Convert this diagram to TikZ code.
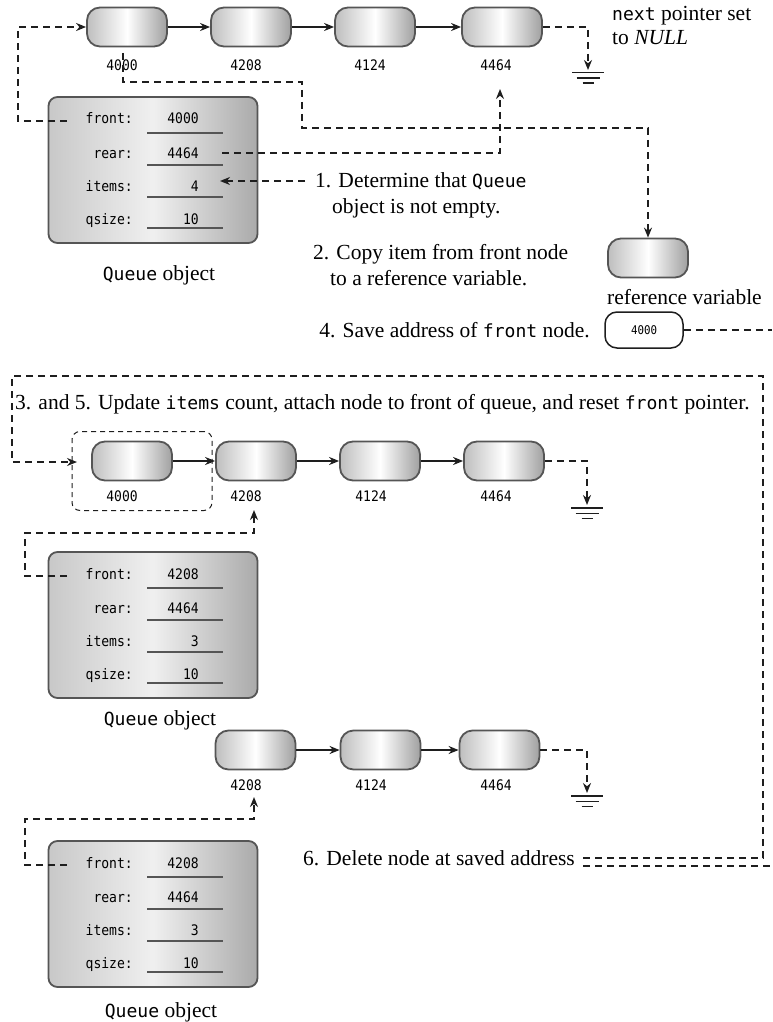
\documentclass[tikz,border=0pt]{standalone}
\usepackage{fontspec}
\setmainfont{Liberation Serif}
\setmonofont{DejaVu Sans Mono}[Scale=0.84]
\newfontfamily\fieldfont{DejaVu Sans Mono}[FakeStretch=0.9]
\usepackage{tikz}
\usetikzlibrary{arrows.meta, positioning}
\definecolor{myedge}{RGB}{85,85,85}
\definecolor{myink}{RGB}{30,30,30}
\definecolor{shadel}{RGB}{190,190,190}
\definecolor{shader}{RGB}{160,160,160}
\definecolor{boxl}{RGB}{200,200,200}
\definecolor{boxr}{RGB}{170,170,170}
\tikzset{
  listnode/.style={rectangle, rounded corners=13pt, minimum width=80pt,
    minimum height=39pt, draw=myedge, line width=1.8pt,
    left color=shadel, right color=shader, middle color=white},
  qbox/.style={rectangle, rounded corners=9pt, minimum width=209pt,
    minimum height=146pt, draw=myedge, line width=1.8pt,
    left color=boxl, right color=boxr, middle color=white!94!black},
  savebox/.style={rectangle, rounded corners=12pt, minimum width=78pt,
    minimum height=36pt, draw=myink, line width=1.5pt, fill=white,
    font=\fieldfont\fontsize{12}{14}\selectfont},
  nodelbl/.style={font=\fieldfont\fontsize{14.5}{16}\selectfont, inner sep=0pt},
  fieldtxt/.style={font=\fieldfont\fontsize{14.5}{16}\selectfont, inner sep=0pt,
    anchor=base east},
  fieldline/.style={draw=myedge, line width=1.6pt},
  stepnote/.style={font=\fontsize{21.5}{26}\selectfont, align=left, inner sep=0pt},
  link/.style={-{Stealth[length=10pt,width=8pt]}, line width=1.7pt, color=myink},
  ptr/.style={line width=1.7pt, color=myink, dash pattern=on 7pt off 5pt},
  ptrtip/.style={-{Stealth[length=10pt,width=8pt]}},
  selbox/.style={rectangle, draw=myink, line width=1pt,
    dash pattern=on 5pt off 4pt, rounded corners=8pt},
  gnd/.style={line width=1.6pt, color=myink}
}
% ground symbol under a NULL pointer
\newcommand{\groundat}[1]{%
  \draw[gnd] ([shift={(-16,2.7)}]#1) -- ++(32,0);
  \draw[gnd] ([shift={(-11.5,8.3)}]#1) -- ++(23,0);
  \draw[gnd] ([shift={(-5.5,13.3)}]#1) -- ++(11,0);
}
% Queue object: name, centre, front, rear, items
\newcommand{\queuebox}[5]{%
  \node[qbox] (#1) at #2 {};
  \node[fieldtxt] (#1fl) at ([shift={(-20,-46)}]#1.center) {front:};
  \node[fieldtxt] (#1rl) at ([shift={(-20,-12)}]#1.center) {rear:};
  \node[fieldtxt] (#1il) at ([shift={(-20,21)}]#1.center) {items:};
  \node[fieldtxt] (#1sl) at ([shift={(-20,54)}]#1.center) {qsize:};
  \node[fieldtxt] (#1fv) at ([shift={(46,-46)}]#1.center) {#3};
  \node[fieldtxt] (#1rv) at ([shift={(46,-12)}]#1.center) {#4};
  \node[fieldtxt] (#1iv) at ([shift={(46,21)}]#1.center) {#5};
  \node[fieldtxt] (#1sv) at ([shift={(46,54)}]#1.center) {10};
  \draw[fieldline] ([shift={(-6,-37)}]#1.center) -- ++(76,0);
  \draw[fieldline] ([shift={(-6,-5)}]#1.center) -- ++(76,0);
  \draw[fieldline] ([shift={(-6,27)}]#1.center) -- ++(76,0);
  \draw[fieldline] ([shift={(-6,58)}]#1.center) -- ++(76,0);
  \coordinate (#1fp) at ([shift={(-86,-49)}]#1.center);
}

\begin{document}
\begin{tikzpicture}[x=1pt, y=-1pt]
  \useasboundingbox (0,0) rectangle (772,1022);

  % Step 1: list before dequeue
  \node[listnode] (t1) at (127,27) {};
  \node[listnode] (t2) at (251,27) {};
  \node[listnode] (t3) at (375,27) {};
  \node[listnode] (t4) at (502,27) {};
  \node[nodelbl] (t1a) at (122,65) {4000};
  \node[nodelbl] (t2a) at (246,65) {4208};
  \node[nodelbl] (t3a) at (370,65) {4124};
  \node[nodelbl] (t4a) at (496,65) {4464};
  \draw[link] (t1) -- (t2);
  \draw[link] (t2) -- (t3);
  \draw[link] (t3) -- (t4);
  \coordinate (t4nil) at (588,70);
  \draw[ptr, ptrtip] (t4.east) -| (t4nil);
  \groundat{t4nil}
  \node[stepnote, anchor=west, font=\fontsize{21.5}{24}\selectfont] (snull) at (612,25) {\texttt{next} pointer set\\to \textit{NULL}};

  \queuebox{q1}{(153,170)}{4000}{4464}{4}
  \node[stepnote] (q1cap) at (159,275) {\texttt{Queue} object};
  \coordinate (c1) at (18,27);
  \draw[ptr, ptrtip] (q1fp) -| (c1) -- (t1.west);
  \coordinate (rtip) at (500,89);
  \draw[ptr, ptrtip] ([xshift=23pt]q1rv.east) -| (rtip);

  % Steps 1, 2 and 4
  \node[stepnote, anchor=west] (s1) at (315,195) {1. Determine that \texttt{Queue}\\\hspace*{17pt}object is not empty.};
  \coordinate (itip) at (220,181);
  \draw[ptr, ptrtip] ([xshift=-10pt]s1.west |- itip) -- (itip);
  \node[stepnote, anchor=west] (s2) at (313,265) {2. Copy item from front node\\\hspace*{17pt}to a reference variable.};
  \node[listnode] (refv) at (648,258) {};
  \node[stepnote, anchor=west] (refcap) at (607,297) {reference variable};
  \coordinate (cp0) at (123,53);
  \coordinate (cp1) at (302,82);
  \coordinate (cp2) at (302,128);
  \draw[ptr, ptrtip] (cp0) |- (cp1) -- (cp2) -| (refv.north);
  \node[stepnote, anchor=east] (s4) at (590,330) {4. Save address of \texttt{front} node.};
  \node[savebox] (savev) at (644,330) {4000};
  \coordinate (e1) at (772,330);
  \draw[ptr] (savev.east) -- (e1);

  % Steps 3 and 5: list after front is reset
  \node[stepnote, anchor=west] (s35) at (15,404) {3. and 5. Update \texttt{items} count, attach node to front of queue, and reset \texttt{front} pointer.};
  \node[listnode] (m1) at (132,461) {};
  \node[listnode] (m2) at (256,461) {};
  \node[listnode] (m3) at (380,461) {};
  \node[listnode] (m4) at (504,461) {};
  \node[nodelbl] (m1a) at (122,496) {4000};
  \node[nodelbl] (m2a) at (246,496) {4208};
  \node[nodelbl] (m3a) at (371,496) {4124};
  \node[nodelbl] (m4a) at (496,496) {4464};
  \node[selbox, minimum width=140pt, minimum height=79pt] (sel) at (142,471) {};
  \draw[link] (m1) -- (m2);
  \draw[link] (m2) -- (m3);
  \draw[link] (m3) -- (m4);
  \coordinate (m4nil) at (587,505);
  \draw[ptr, ptrtip] (m4.east) -| (m4nil);
  \groundat{m4nil}

  \queuebox{q2}{(153,625)}{4208}{4464}{3}
  \node[stepnote] (q2cap) at (160,720) {\texttt{Queue} object};
  \coordinate (c2) at (25,533);
  \coordinate (m2tip) at (254,510);
  \draw[ptr, ptrtip] (q2fp) -| (c2) -| (m2tip);

  % Step 6: list after delete
  \node[listnode] (b1) at (255.5,750) {};
  \node[listnode] (b2) at (380.5,750) {};
  \node[listnode] (b3) at (499.5,750) {};
  \node[nodelbl] (b1a) at (246,785) {4208};
  \node[nodelbl] (b2a) at (371,785) {4124};
  \node[nodelbl] (b3a) at (496,785) {4464};
  \draw[link] (b1) -- (b2);
  \draw[link] (b2) -- (b3);
  \coordinate (b3nil) at (587,793);
  \draw[ptr, ptrtip] (b3.east) -| (b3nil);
  \groundat{b3nil}

  \queuebox{q3}{(153,914)}{4208}{4464}{3}
  \node[stepnote] (q3cap) at (161,1012) {\texttt{Queue} object};
  \coordinate (c3) at (25,819);
  \coordinate (b1tip) at (254,797);
  \draw[ptr, ptrtip] (q3fp) -| (c3) -| (b1tip);

  \node[stepnote, anchor=east] (s6) at (575,858) {6. Delete node at saved address};
  \coordinate (d1) at (763,376);
  \coordinate (d2) at (12,462);
  \coordinate (d3) at (77,462);
  \draw[ptr, ptrtip] ([xshift=8pt]s6.east) -| (d1) -| (d2) -- (d3);
  \coordinate (e2) at (772,866);
  \draw[ptr] ([xshift=8pt]s6.east |- e2) -- (e2);
\end{tikzpicture}
\end{document}
